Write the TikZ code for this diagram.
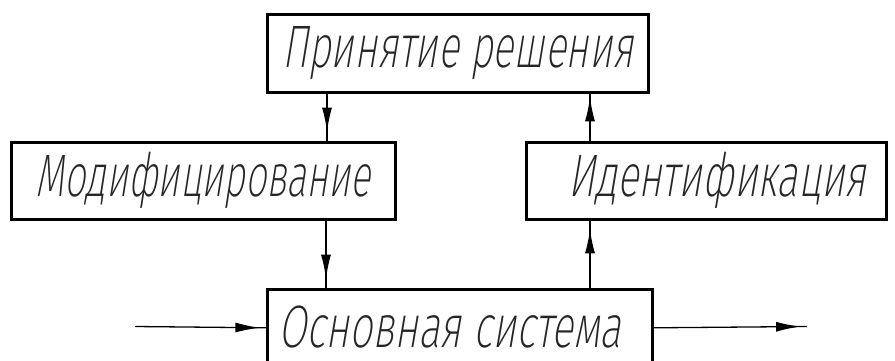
\documentclass[tikz,border=0pt]{standalone}
\usepackage{fontspec}
\usepackage{graphicx}
\usetikzlibrary{arrows.meta,decorations.markings}
\newfontfamily\gostfont[FakeSlant=0.25]{Fira Sans ExtraLight}
\newlength\gostw
\newcommand\gostsize{\fontsize{60}{62}\selectfont}
\newcommand\gosttext[2]{\settowidth\gostw{\gostfont\gostsize #2}\pgfmathsetmacro\gostf{#1/\gostw}\raisebox{3pt}{\scalebox{\gostf}[1]{\gostfont\gostsize #2}}}
\begin{document}
\begin{tikzpicture}[x=1pt,y=-1pt,
  blk/.style={draw=black, line width=2.6pt, minimum width=#1, minimum height=77pt,
    inner sep=0pt, text=black!85, anchor=north west},
  conn/.style={line width=1.3pt},
  headat/.style={postaction={decorate},
    decoration={markings,mark=at position #1 with {\arrow{Latex[length=24pt,width=10pt]}}}}]
\fill[white] (0,0) rectangle (895,360);
\useasboundingbox (0,0) rectangle (895,360);
\clip (0,0) rectangle (895,360);

\node[blk=381pt, minimum height=78pt] (B1) at (266,13) {\gosttext{351}{Принятие решения}};
\node[blk=384pt] (B2) at (10,141) {\gosttext{335}{Модифицирование}};
\node[blk=360pt] (B3) at (525,141) {\hspace*{22pt}\gosttext{298}{Идентификация}};
\node[blk=385pt] (B4) at (266,288) {\gosttext{343}{Основная система}\hspace*{20pt}};

\coordinate (c1) at ([xshift=61pt]B1.south west);
\coordinate (c2) at ([xshift=324pt]B1.south west);
\coordinate (c3) at ([xshift=316pt]B2.south west);
\coordinate (c4) at ([xshift=65pt]B3.south west);
\coordinate (in) at (135,326.5);
\coordinate (out) at (807,326.5);

\draw[conn,headat=0.8] (c1) -- (c1 |- B2.north);
\draw[conn,headat=0.92] (c2 |- B3.north) -- (c2);
\draw[conn,headat=0.86] (c3) -- (c3 |- B4.north);
\draw[conn,headat=0.87] (c4 |- B4.north) -- (c4);
\draw[conn,headat=0.95] (in) -- (B4.west);
\draw[conn,headat=0.955] (B4.east) -- (out);
\end{tikzpicture}
\end{document}
